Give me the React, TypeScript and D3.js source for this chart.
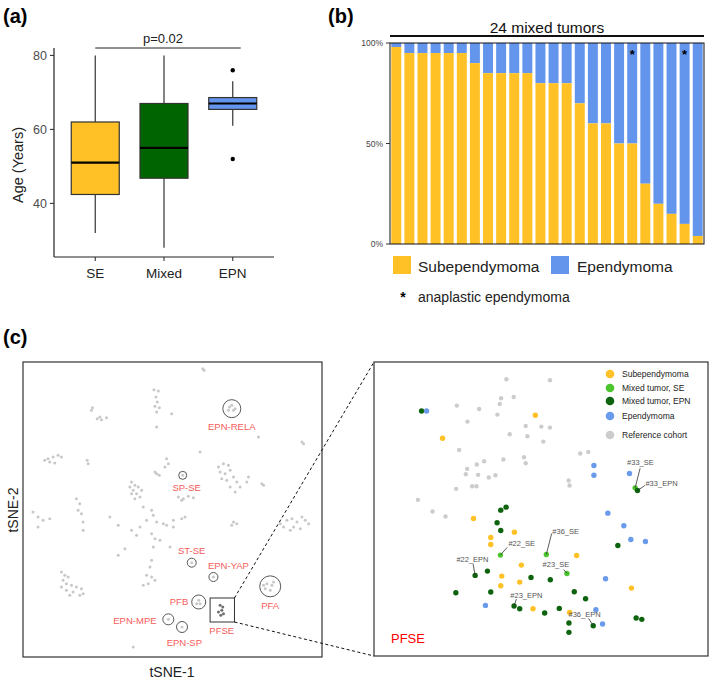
import React from "react";
import * as d3 from "d3";

// ---- panel (a): age by group ----
const ageGroups = ["SE", "Mixed", "EPN"];
const ageLow = [32, 28, 61];
const ageQ1 = [42.4, 46.8, 65.4];
const ageMedian = [51, 55, 67];
const ageQ3 = [62, 67, 68.6];
const ageHigh = [80, 80, 73];
const ageOutliers = [[], [], [76, 52]];
const ageColors = ["#FFC125", "#006400", "#6495ED"];
const ageTicks = [40, 60, 80];

// ---- panel (b): 24 mixed tumors, % subependymoma ----
const tumorSE = [98, 95, 95, 95, 95, 95, 90, 85, 85, 85, 85, 80, 80, 80, 70, 60, 60, 50, 50, 30, 20, 15, 10, 4];
const anaplastic = [18, 22]; // zero-based bar index
const pctTicks = [0, 50, 100];

// ---- panel (c) left: reference tSNE (grey) ----
const tsneRef: [number, number][] = [
  [8.8, 42.5], [9.2, 42], [-5.8, 36.2], [-4.5, 35.8], [-5.2, 34], [-4.8, 32.5], [-5.5, 31.2], [-4.2, 30.8], [-5, 29.5],
  [-24.2, 30.8], [-24.5, 30], [-22.8, 27.5], [-21.5, 27.2], [-20, 27.8], [-22, 28], [-0.5, 29], [-5, 25],
  [-36, 16], [-37.5, 15.5], [-34.5, 16.5], [-33.5, 16], [-37, 14.5], [-35.5, 14.2], [-38.5, 15],
  [-25.8, 15], [-25.5, 14], [-2, 15.5], [-1.5, 14], [-2.5, 13], [-5, 11], [-5.5, 11.5], [-4.2, 10.5],
  [-12.5, 8.5], [-11.5, 7.5], [-10.5, 7], [-12, 6], [-11, 5], [-10, 4], [-11.5, 3.5], [-12.5, 5], [-9.5, 6], [-13, 7],
  [8, 17.5], [13.5, 13], [15, 14], [16.5, 13.5], [14, 11.5], [15.5, 11], [17, 12], [18, 10], [14.5, 9.5], [16, 9],
  [19, 8.5], [20, 7], [18.5, 5.5], [17, 7], [22, 8.5], [22.5, 10],
  [1.5, 4], [3, 3.5], [4.5, 4.2], [6, 3.8], [2.5, 3], [-29, 3.5], [-28, 2], [-27.5, -1], [-28.5, 0],
  [26.5, 8], [27, 7.5], [38.5, 20.5], [39, 20], [25.5, 22], [18, -3.5], [17.5, -4.5], [19, -4],
  [34, -3], [35.5, -2.5], [37, -3.5], [38.5, -2], [39.5, -3], [36, -5], [35, -6], [38, -5.5], [40.5, -4], [32, -4], [33, -5],
  [-9, 1], [-6.5, 0], [-6, -1.5], [-8, -3], [-5, -3.5], [-3, -4], [-2, -4.5], [-6.5, -7], [-5.5, -8.5], [-4, -9],
  [-10, -5], [-12.5, -6], [-11, -7.5], [0, -3], [2.5, -2.5], [3.5, -2], [0, -5], [-19, -2], [-16.5, -4.5],
  [-42, -0.5], [-40.5, -2], [-39, -3], [-37, -2.5], [-40.5, -5], [-27, -3.5], [-27, -6],
  [-14.5, -11.5], [-16.5, -13.5], [-6, -11], [-6.5, -15], [-7, -17], [-1, -11],
  [-8, -19.5], [-6.5, -20], [-7.5, -22], [-9, -22.5], [-5.5, -21],
  [-33.5, -18.5], [-32.5, -19.5], [-31.5, -20], [-33, -21], [-32, -22], [-30.5, -22.5], [-29, -23], [-27.5, -23.5],
  [-30, -24.5], [-28, -25.5], [-32, -24], [-31, -25.5], [-27, -25], [-33.5, -23], [-12, -41],
  [16.8, 31], [18.5, 30.5], [17.5, 31.5], [18, 30], [16.5, 30], [2.8, 10.5], [5.5, -15.7], [12, -20],
  [28, -22], [29.5, -22.5], [27.5, -23.5], [29, -24], [30, -21.5], [27, -22.5],
  [7.6, -27], [7, -28], [8, -28], [-1.5, -32.7], [2.6, -35],
];
const tsnePFSE: [number, number][] = [[14, -28.5], [14.5, -30], [15, -31], [13.5, -30.5], [14.8, -29], [14.2, -31.5]];

const subtypeNames = ["EPN-RELA", "SP-SE", "ST-SE", "EPN-YAP", "PFA", "PFB", "EPN-MPE", "EPN-SP"];
const subtypeCenter: [number, number][] = [[17.5, 30.5], [2.8, 10.5], [5.5, -15.7], [12, -20], [29, -22.8], [7.6, -27.5], [-1.5, -32.7], [2.6, -35]];
const subtypeRadius = [9, 4, 4.5, 4.5, 10.5, 7, 5.5, 5.5];
const subtypeLabelAt: [number, number][] = [[17.5, 24.2], [4, 5.8], [5.5, -13], [16.5, -17.5], [29, -29.5], [1.7, -28.5], [-11.5, -34], [3.3, -40.7]];
const pfseBox = { x0: 11, x1: 18.3, y0: -33.5, y1: -26.3 };

// ---- panel (c) right: PFSE zoom ----
const zoomRef: [number, number][] = [
  [39.8, 83.1], [52.9, 82.8], [38.2, 77.4], [42, 77.8], [37.8, 75.7], [24.9, 75.2], [31.6, 74.2], [37.1, 72.5],
  [28.1, 70.4], [45.6, 69.1], [50.3, 68.9], [52.9, 68.6], [40.8, 66.6], [46.1, 66], [50.9, 64.4], [25.6, 61.9],
  [62, 60.8], [64.4, 61.3], [45.1, 59.7], [45.6, 57.9], [38.9, 59], [33.1, 58.5], [30.9, 57.5], [28, 56.2],
  [27.6, 54.6], [31.3, 54.4], [34.5, 53.6], [36.5, 54.3], [58.5, 52.7], [58.8, 51.2], [29.5, 51], [30.8, 51],
  [24.7, 50.2], [13.2, 46.9], [17.6, 43.4], [21.5, 41.9],
];
const zoomSE: [number, number][] = [
  [48.5, 72.3], [20.6, 65.4], [29.9, 41.3], [42.2, 37.2], [35.1, 35.6], [35.1, 33.5], [44.3, 27.3], [38.4, 24],
  [43.8, 22.2], [38.1, 21.1], [60.9, 30.2], [47.8, 14.2], [58.8, 13.1], [77.4, 20.4],
];
const zoomMixedSE: [number, number][] = [[38, 30.3], [51.8, 30.5], [58, 24.8], [78.5, 50.5]];
const zoomMixedEPN: [number, number][] = [
  [14.3, 73.6], [38.1, 43.8], [39.7, 44.7], [37, 40], [38.1, 37.7], [73.3, 33.2], [30.4, 24.2], [34.1, 25.5],
  [47.2, 23.6], [53, 22.9], [24.6, 19], [35.1, 19.2], [60.2, 19.3], [63.6, 17.2], [42.1, 15], [43.8, 14.2],
  [51.3, 12.9], [55.7, 14.3], [58.6, 9.9], [58.6, 7.1], [65.9, 9.1], [78.8, 11.4], [80.5, 11], [79.2, 49.7],
];
const zoomEPN: [number, number][] = [
  [15.8, 73.6], [66.1, 57.2], [66.1, 54.3], [76.8, 54.8], [70.3, 42.9], [75.1, 39.1], [77.2, 35], [81.6, 34.4],
  [69.6, 23.2], [33.5, 15.2], [66.7, 13.9], [68.7, 9.6],
];
const caseNames = ["#33_SE", "#33_EPN", "#36_SE", "#22_SE", "#22_EPN", "#23_SE", "#23_EPN", "#36_EPN"];
const caseText: [number, number][] = [[80.1, 57.3], [81.6, 51.2], [53.6, 36.5], [40.4, 32.9], [29.6, 28.2], [54.7, 26.6], [45.8, 17.5], [63.3, 11.8]];
const caseAnchor = ["middle", "start", "start", "start", "middle", "middle", "middle", "middle"];
const caseLineFrom: [number, number][] = [[80, 56.4], [81.4, 51.2], [53.4, 36.8], [40, 32.6], [29.8, 27.6], [57, 26], [42.8, 17.1], [64.5, 11.3]];
const casePoint: [number, number][] = [[78.5, 50.5], [79.2, 49.7], [51.8, 30.5], [38, 30.3], [30.4, 24.2], [58, 24.8], [42.1, 15], [65.9, 9.1]];

const legendNames = ["Subependymoma", "Mixed tumor, SE", "Mixed tumor, EPN", "Ependymoma", "Reference cohort"];
const legendColors = ["#FFC125", "#4CC62E", "#0E640E", "#6A9BEB", "#CCCCCC"];

const FONT = "'Liberation Sans', Arial, sans-serif";

export default function App() {
  // panel (a)
  const ax = d3.scalePoint<string>().domain(ageGroups).range([54, 274]).padding(0.6);
  const ay = d3.scaleLinear().domain([25.5, 82]).range([257, 48]);
  const boxW = 48;

  // panel (b)
  const bx = d3.scaleBand<number>().domain(d3.range(tumorSE.length)).range([390.5, 703.5]).paddingInner(0.24).paddingOuter(0.06);
  const by = d3.scaleLinear().domain([0, 100]).range([244, 43]);

  // panel (c)
  const lx = d3.scaleLinear().domain([-45, 44.5]).range([23, 322]);
  const ly = d3.scaleLinear().domain([-44, 44.5]).range([657, 362]);
  const rx = d3.scaleLinear().domain([0, 100.4]).range([374, 708]);
  const ry = d3.scaleLinear().domain([0, 88.3]).range([656, 362]);

  return (
    <svg width={709} height={681} style={{ position: "absolute", left: 0, top: 0, fontFamily: FONT }}>
      <rect width={709} height={681} fill="#fff" />

      {/* ---------- (a) ---------- */}
      <text x={3} y={23} fontSize={20} fontWeight="bold">(a)</text>
      <line x1={ax("SE")!} x2={ax("EPN")! + 8} y1={48} y2={48} stroke="#222" />
      <text x={163} y={43} fontSize={13} textAnchor="middle" fill="#222">p=0.02</text>
      {ageGroups.map((g, i) => {
        const cx = ax(g)!;
        return (
          <g key={g}>
            <line x1={cx} x2={cx} y1={ay(ageHigh[i])} y2={ay(ageQ3[i])} stroke="#333" strokeWidth={1.2} />
            <line x1={cx} x2={cx} y1={ay(ageQ1[i])} y2={ay(ageLow[i])} stroke="#333" strokeWidth={1.2} />
            <rect x={cx - boxW / 2} width={boxW} y={ay(ageQ3[i])} height={ay(ageQ1[i]) - ay(ageQ3[i])}
              fill={ageColors[i]} stroke="#333" strokeWidth={1.2} />
            <line x1={cx - boxW / 2} x2={cx + boxW / 2} y1={ay(ageMedian[i])} y2={ay(ageMedian[i])} stroke="#000" strokeWidth={2.2} />
            {ageOutliers[i].map((o, j) => (
              <circle key={j} cx={cx} cy={ay(o)} r={2.2} fill="#000" />
            ))}
          </g>
        );
      })}
      <line x1={54} x2={54} y1={48} y2={257} stroke="#222" strokeWidth={1.2} />
      <line x1={54} x2={274} y1={257} y2={257} stroke="#222" strokeWidth={1.2} />
      {ageTicks.map((t) => (
        <g key={t}>
          <line x1={50} x2={54} y1={ay(t)} y2={ay(t)} stroke="#222" />
          <text x={47} y={ay(t) + 4.5} fontSize={12.5} textAnchor="end" fill="#4d4d4d">{t}</text>
        </g>
      ))}
      {ageGroups.map((g) => (
        <g key={g}>
          <line x1={ax(g)!} x2={ax(g)!} y1={257} y2={261} stroke="#222" />
          <text x={ax(g)!} y={278} fontSize={13.5} textAnchor="middle" fill="#222">{g}</text>
        </g>
      ))}
      <text transform="translate(23,165) rotate(-90)" fontSize={14.5} textAnchor="middle" fill="#222">Age (Years)</text>

      {/* ---------- (b) ---------- */}
      <text x={328} y={23} fontSize={20} fontWeight="bold">(b)</text>
      <text x={547} y={33} fontSize={15.5} textAnchor="middle" fill="#111">24 mixed tumors</text>
      <line x1={390} x2={704} y1={36} y2={36} stroke="#111" strokeWidth={1.8} />
      {tumorSE.map((v, i) => (
        <g key={i}>
          <rect x={bx(i)!} width={bx.bandwidth()} y={by(100)} height={by(v) - by(100)} fill="#6495ED" />
          <rect x={bx(i)!} width={bx.bandwidth()} y={by(v)} height={by(0) - by(v)} fill="#FFC125" />
        </g>
      ))}
      {anaplastic.map((i) => (
        <text key={i} x={bx(i)! + bx.bandwidth() / 2} y={by(100) + 16} fontSize={13} fontWeight="bold" textAnchor="middle">*</text>
      ))}
      <rect x={390} y={43} width={314} height={201} fill="none" stroke="#111" strokeWidth={1} />
      {pctTicks.map((t) => (
        <g key={t}>
          <line x1={386} x2={390} y1={by(t)} y2={by(t)} stroke="#333" />
          <text x={383} y={by(t) + 3} fontSize={8.5} textAnchor="end" fill="#444">{t}%</text>
        </g>
      ))}
      <rect x={393} y={256} width={18} height={18} fill="#FFC125" />
      <text x={418} y={272} fontSize={15.5} fill="#222">Subependymoma</text>
      <rect x={551} y={256} width={18} height={18} fill="#6495ED" />
      <text x={577} y={272} fontSize={15.5} fill="#222">Ependymoma</text>
      <text x={403} y={302} fontSize={14} textAnchor="middle" fontWeight="bold">*</text>
      <text x={418} y={302} fontSize={14} fill="#222">anaplastic ependymoma</text>

      {/* ---------- (c) left ---------- */}
      <text x={3} y={344} fontSize={20} fontWeight="bold">(c)</text>
      {tsneRef.map(([x, y], i) => (
        <circle key={i} cx={lx(x)} cy={ly(y)} r={1.5} fill="#c8c8c8" />
      ))}
      {tsnePFSE.map(([x, y], i) => (
        <circle key={i} cx={lx(x)} cy={ly(y)} r={1.5} fill="#707070" />
      ))}
      {subtypeNames.map((n, i) => (
        <g key={n}>
          <circle cx={lx(subtypeCenter[i][0])} cy={ly(subtypeCenter[i][1])} r={subtypeRadius[i]} fill="none" stroke="#444" strokeWidth={0.9} />
          <text x={lx(subtypeLabelAt[i][0])} y={ly(subtypeLabelAt[i][1])} fontSize={9.5} textAnchor="middle" fill="#F55B5B">{n}</text>
        </g>
      ))}
      <rect x={lx(pfseBox.x0)} y={ly(pfseBox.y1)} width={lx(pfseBox.x1) - lx(pfseBox.x0)} height={ly(pfseBox.y0) - ly(pfseBox.y1)}
        fill="none" stroke="#333" strokeWidth={1} />
      <text x={lx(14.5)} y={ly(-37)} fontSize={9.5} textAnchor="middle" fill="#F55B5B">PFSE</text>
      <rect x={23} y={362} width={299} height={295} fill="none" stroke="#333" strokeWidth={1.2} />
      <text x={172} y={677} fontSize={14} textAnchor="middle" fill="#222">tSNE-1</text>
      <text transform="translate(18,510) rotate(-90)" fontSize={14} textAnchor="middle" fill="#222">tSNE-2</text>

      {/* dashed connectors */}
      <line x1={lx(pfseBox.x1)} y1={ly(pfseBox.y1)} x2={rx(0)} y2={ry(88.3)} stroke="#111" strokeDasharray="3,2.5" />
      <line x1={lx(pfseBox.x1)} y1={ly(pfseBox.y0)} x2={rx(0)} y2={ry(0)} stroke="#111" strokeDasharray="3,2.5" />

      {/* ---------- (c) right ---------- */}
      <rect x={374} y={362} width={334} height={294} fill="#fff" stroke="#333" strokeWidth={1.2} />
      {zoomRef.map(([x, y], i) => (
        <circle key={"r" + i} cx={rx(x)} cy={ry(y)} r={2.2} fill="#CCCCCC" />
      ))}
      {zoomSE.map(([x, y], i) => (
        <circle key={"s" + i} cx={rx(x)} cy={ry(y)} r={2.7} fill="#FFC125" />
      ))}
      {zoomMixedSE.map(([x, y], i) => (
        <circle key={"m" + i} cx={rx(x)} cy={ry(y)} r={2.7} fill="#4CC62E" />
      ))}
      {zoomMixedEPN.map(([x, y], i) => (
        <circle key={"e" + i} cx={rx(x)} cy={ry(y)} r={2.7} fill="#0E640E" />
      ))}
      {zoomEPN.map(([x, y], i) => (
        <circle key={"b" + i} cx={rx(x)} cy={ry(y)} r={2.7} fill="#6A9BEB" />
      ))}
      {caseNames.map((n, i) => (
        <g key={n}>
          <line x1={rx(caseLineFrom[i][0])} y1={ry(caseLineFrom[i][1])} x2={rx(casePoint[i][0])} y2={ry(casePoint[i][1])} stroke="#333" strokeWidth={0.8} />
          <text x={rx(caseText[i][0])} y={ry(caseText[i][1])} fontSize={7.5} textAnchor={caseAnchor[i]} fill="#555">{n}</text>
        </g>
      ))}
      {legendNames.map((n, i) => {
        const yy = [374, 388, 401, 416, 435][i];
        return (
          <g key={n}>
            <circle cx={610} cy={yy} r={4.3} fill={legendColors[i]} />
            <text x={622} y={yy + 3} fontSize={8.5} fill="#222">{n}</text>
          </g>
        );
      })}
      <text x={391} y={643} fontSize={13} fill="#FF0000">PFSE</text>
    </svg>
  );
}
